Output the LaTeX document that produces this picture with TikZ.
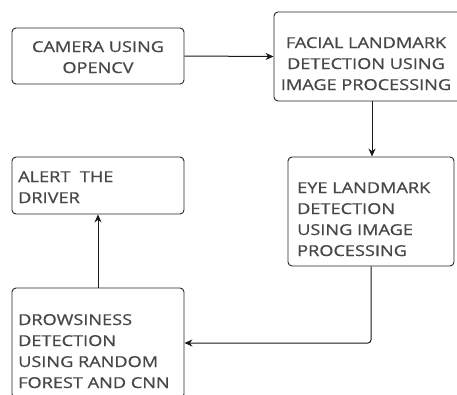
\documentclass[tikz,border=0pt]{standalone}
\usepackage{fontspec}
\setmainfont[FakeBold=0.6]{Open Sans}
\usepackage{graphicx}
\usetikzlibrary{arrows.meta}
\newcommand{\TL}[1]{\scalebox{1.21}[1]{\begin{tabular}[t]{@{}l@{}}#1\end{tabular}}}
\newcommand{\TC}[1]{\scalebox{1.21}[1]{\begin{tabular}[t]{@{}c@{}}#1\end{tabular}}}
\begin{document}
\begin{tikzpicture}[x=1pt,y=-1pt,
  box/.style={draw=black!85, line width=0.9pt, rounded corners=4pt, inner sep=0pt},
  txt/.style={inner sep=0pt, text=black!72, font=\fontsize{15}{21}\selectfont},
  conn/.style={draw=black!90, line width=1pt, -{Stealth[length=8pt,width=7pt]}}]
\useasboundingbox (0,0) rectangle (457,394);
\clip (0,0) rectangle (457,394);
\fill[white] (0,0) rectangle (457,394);
% boxes
\node[box, minimum width=172pt, minimum height=56pt] (cam) at (98,56) {};
\node[box, minimum width=196pt, minimum height=89pt] (fac) at (372,56.5) {};
\node[box, minimum width=166pt, minimum height=109pt] (eye) at (371,211.5) {};
\node[box, minimum width=172pt, minimum height=57pt] (alert) at (98,185.5) {};
\node[box, minimum width=172pt, minimum height=110pt] (drow) at (98,343) {};
% texts
\node[txt, anchor=base] (camt) at (98,52) {\TC{CAMERA USING\\OPENCV}};
\node[txt, anchor=base] (fact) at (366,48) {\TC{FACIAL LANDMARK\\DETECTION USING\\IMAGE PROCESSING}};
\node[txt, anchor=base west] (eyet) at (297,193) {\TL{EYE LANDMARK\\DETECTION\\USING IMAGE\\PROCESSING}};
\node[txt, anchor=base west] (alertt) at (18,182) {\TL{ALERT\ \ THE\\DRIVER}};
\node[txt, anchor=base west] (drowt) at (18,325) {\TL{DROWSINESS\\DETECTION\\USING RANDOM\\FOREST AND CNN}};
% connectors
\draw[conn] (cam.east) -- (fac.west);
\draw[conn] (fac.south) -- (fac.south |- eye.north);
\draw[conn, rounded corners=3pt] (eye.south) |- (drow.east);
\draw[conn] (drow.north) -- (alert.south);
\end{tikzpicture}
\end{document}
